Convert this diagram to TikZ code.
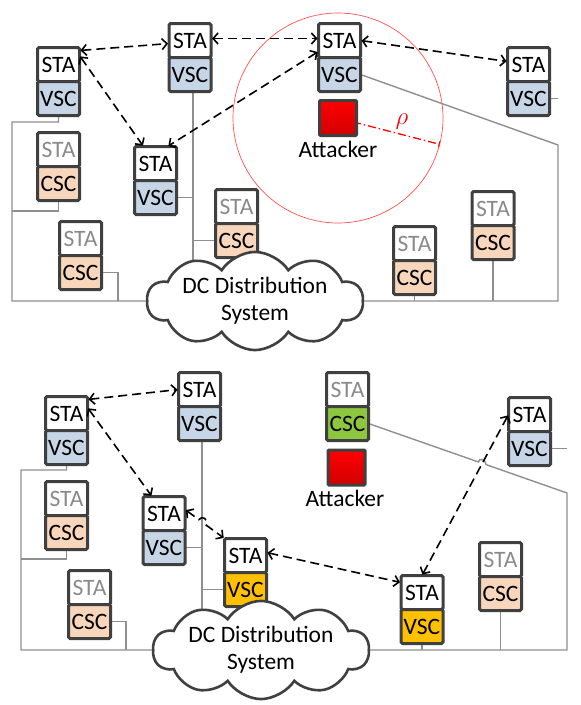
\documentclass[tikz,border=0pt]{standalone}
\usepackage{fontspec}
\setmainfont{Carlito}
\usetikzlibrary{shapes.symbols,arrows.meta,calc}
\definecolor{boxline}{HTML}{404040}
\definecolor{vscfill}{HTML}{C6D6E6}
\definecolor{cscfill}{HTML}{F7D6BC}
\definecolor{greenfill}{HTML}{8DC63F}
\definecolor{orangefill}{HTML}{FFC000}
\definecolor{wirecol}{HTML}{8F8F8F}
\definecolor{stagrey}{HTML}{8A8A8A}
\definecolor{circred}{HTML}{FF5050}
\pgfdeclarelayer{bg}
\pgfsetlayers{bg,main}
\newcommand\mkunit[6]{%
  \node[part, text=#4, anchor=north] (#1s) at (#2,#3+1.5) {STA};
  \node[part, fill=#6, anchor=north] (#1l) at (#1s.south) {#5};
}
\begin{document}
\begin{tikzpicture}[x=1pt,y=-1pt,
  txt/.style={font=\fontsize{23.5}{27}\selectfont},
  part/.style={txt, draw=boxline, line width=3pt, rounded corners=1.5pt,
    minimum width=42pt, minimum height=34pt, inner sep=0pt, outer sep=0pt,
    fill=white, text height=15pt, text depth=0pt},
  cloudnode/.style={txt, cloud, cloud puffs=10, cloud puff arc=115, cloud ignores aspect,
    draw=boxline, line width=2.6pt, fill=white, minimum width=216pt, minimum height=70pt,
    align=center, inner sep=0pt},
  atk/.style={draw=boxline, line width=3pt, minimum width=37pt, minimum height=35pt,
    rounded corners=1pt, top color=red, bottom color=red!82!black, inner sep=0pt},
  lbl/.style={txt, text height=15pt, text depth=0pt, inner sep=0pt},
  wire/.style={draw=wirecol, line width=1.4pt},
  dasharrow/.style={black, line width=1.6pt, dash pattern=on 9pt off 5pt,
    {Straight Barb[length=5pt,width=11pt]}-{Straight Barb[length=5pt,width=11pt]},
    shorten <=1pt, shorten >=1pt}]
\useasboundingbox (0,0) rectangle (581,705);

% ---------------- top scene ----------------
\coordinate (atkc) at (338,118);
\begin{pgfonlayer}{bg}
  \draw[circred, line width=0.7pt] (atkc) circle[radius=105];
  \coordinate (rhoend) at ($(atkc)+(14.5:105)$);
  \draw[red, line width=1.3pt, dash pattern=on 8pt off 3pt on 1.5pt off 3pt,
        -{Bar[width=6pt,line width=1pt]}] (atkc) -- (rhoend);
\end{pgfonlayer}

\mkunit{A}{58.5}{46}{black}{VSC}{vscfill}
\mkunit{B}{190}{22}{black}{VSC}{vscfill}
\mkunit{C}{155.5}{145}{black}{VSC}{vscfill}
\mkunit{D}{339.5}{22}{black}{VSC}{vscfill}
\mkunit{E}{528.5}{46}{black}{VSC}{vscfill}
\mkunit{F}{58.5}{131}{stagrey}{CSC}{cscfill}
\mkunit{G}{80.5}{220}{stagrey}{CSC}{cscfill}
\mkunit{H}{236.5}{188}{stagrey}{CSC}{cscfill}
\mkunit{I}{414.5}{225}{stagrey}{CSC}{cscfill}
\mkunit{J}{493}{190}{stagrey}{CSC}{cscfill}

\node[atk] (atkT) at (atkc) {};
\node[lbl] (atkTl) at (338,150) {Attacker};
\node[txt, text=red, inner sep=0pt] (rho) at (402,121.5) {$\rho$};

\node[cloudnode] (cloudT) at (255,301) {DC Distribution\\System};

\coordinate (busLT) at (12,301);
\coordinate (busMT) at (193,275);
\coordinate (busRT) at (558,145);
\begin{pgfonlayer}{bg}
  \draw[wire] (Al.south) |- (12,122) -- (busLT) -- (cloudT.west);
  \draw[wire] (Fl.south) |- (12,211);
  \draw[wire] (Gl.east) -| (118,301);
  \draw[wire] (Bl.south -| busMT) -- (busMT);
  \draw[wire] (Cl.east) -- (Cl.east -| busMT);
  \draw[wire] (Hl.west) -- (Hl.west -| busMT);
  \draw[wire] (Dl.east) -- (busRT) -- (busRT |- cloudT.east) -- (cloudT.east);
  \draw[wire] (El.east) -- (El.east -| busRT);
  \draw[wire] (Il.south) -- (Il.south |- cloudT.east);
  \draw[wire] (Jl.south) -- (Jl.south |- cloudT.east);
\end{pgfonlayer}

\draw[dasharrow] ($(As.north east)+(0,3)$) -- ($(Bs.west)+(0,3)$);
\draw[dasharrow] ($(As.east)+(0,-9)$) -- ($(Cs.north)+(-12,0)$);
\draw[dasharrow] ($(Ds.west)+(0,11)$) -- ($(Cs.north)+(12,0)$);
\draw[dasharrow] ($(Bs.east)+(0,-2)$) -- ($(Ds.west)+(0,-2)$);
\draw[dasharrow] (Ds.east) -- ($(Es.west)+(0,-3)$);

% ---------------- bottom scene ----------------
\mkunit{K}{66.5}{395}{black}{VSC}{vscfill}
\mkunit{L}{199.5}{371}{black}{VSC}{vscfill}
\mkunit{M}{164}{495}{black}{VSC}{vscfill}
\mkunit{N}{347.5}{371}{stagrey}{CSC}{greenfill}
\mkunit{O}{529.5}{396}{black}{VSC}{vscfill}
\mkunit{P}{66.5}{480}{stagrey}{CSC}{cscfill}
\mkunit{Q}{89.5}{569}{stagrey}{CSC}{cscfill}
\mkunit{R}{245.5}{537}{black}{VSC}{orangefill}
\mkunit{S}{422}{574}{black}{VSC}{orangefill}
\mkunit{T}{500.5}{541}{stagrey}{CSC}{cscfill}

\node[atk] (atkB) at (346.5,467.5) {};
\node[lbl] (atkBl) at (345,498.5) {Attacker};

\node[cloudnode] (cloudB) at (261,650) {DC Distribution\\System};

\coordinate (busLB) at (21,650);
\coordinate (busMB) at (202,622);
\coordinate (busRB) at (567,493);
\begin{pgfonlayer}{bg}
  \draw[wire] (Kl.south) |- (21,470) -- (busLB) -- (cloudB.west);
  \draw[wire] (Pl.south) |- (21,559);
  \draw[wire] (Ql.east) -| (126,650);
  \draw[wire] (Ll.south -| busMB) -- (busMB);
  \draw[wire] (Ml.east) -- (Ml.east -| busMB);
  \draw[wire] (Rl.west) -- (Rl.west -| busMB);
  \draw[wire] (Nl.east) -- (478.5,462.0) .. controls +(0,-5) and +(0,-5) .. (486.1,464.6)
      -- (busRB) -- (busRB |- cloudB.east) -- (cloudB.east);
  \draw[wire] (Ol.east) -- (Ol.east -| busRB);
  \draw[wire] (Sl.south) -- (Sl.south |- cloudB.east);
  \draw[wire] (Tl.south) -- (Tl.south |- cloudB.east);
\end{pgfonlayer}

\draw[dasharrow] ($(Ks.north east)+(0,3)$) -- (Ls.west);
\draw[dasharrow] ($(Ks.east)+(0,-6)$) -- ($(Ms.north)+(-12,0)$);
\draw[dasharrow] ($(Ms.east)+(0,-4)$) -- (198.8,519.6) .. controls +(3.6,-4.8) and +(3.6,-4.8) .. (205.2,524.4) -- (Rs.north west);
\draw[dasharrow] ($(Rs.east)+(0,-3)$) -- ($(Ss.west)+(0,-10)$);
\draw[dasharrow] (Os.west) -- (Ss.north);
\end{tikzpicture}
\end{document}
